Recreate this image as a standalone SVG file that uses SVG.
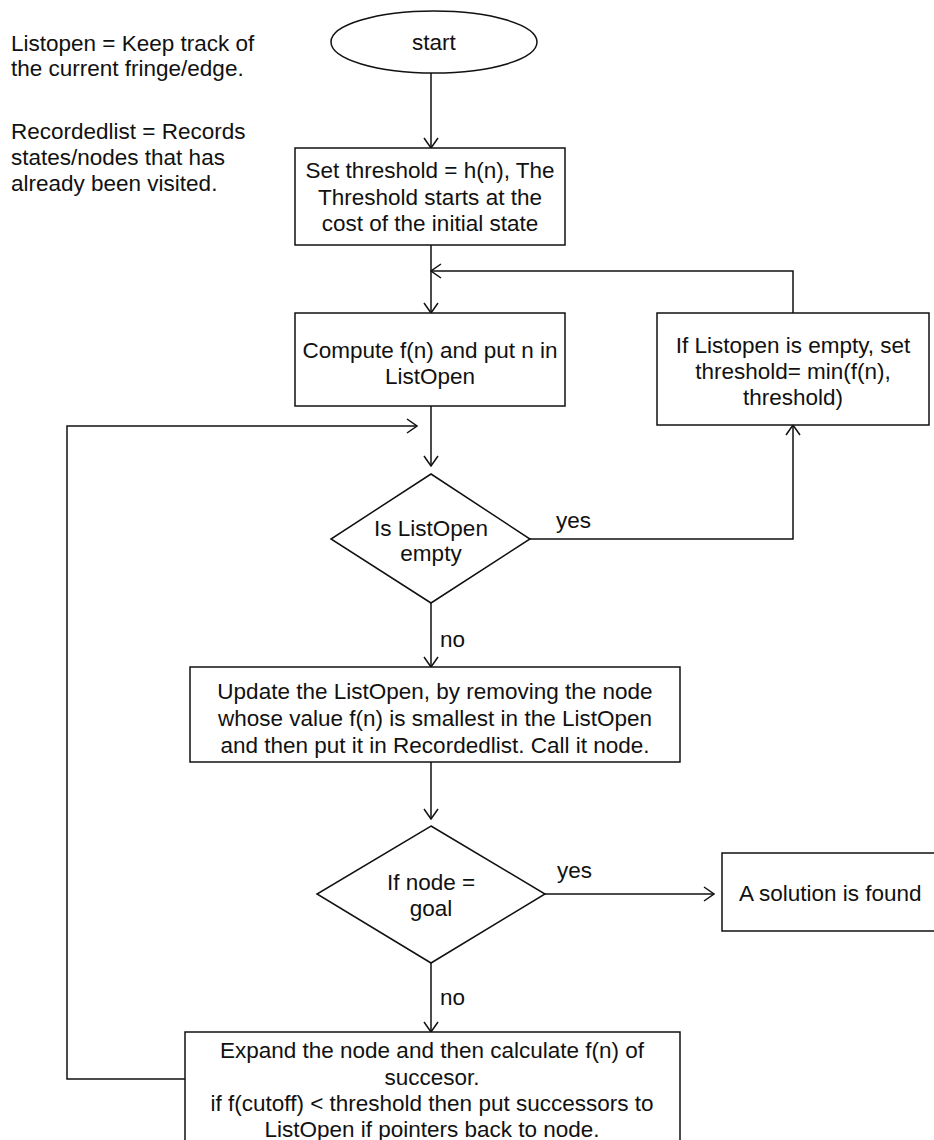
<svg xmlns="http://www.w3.org/2000/svg" width="934" height="1140" viewBox="0 0 934 1140">
<style>
.t{font-family:"Liberation Sans",Arial,sans-serif;font-size:22.5px;fill:#111;}
.m{text-anchor:middle;}
.s{fill:#fff;stroke:#111;stroke-width:1.5;}
.c{fill:none;stroke:#111;stroke-width:1.5;}
</style>
<defs>
<marker id="a" viewBox="0 0 12 16" refX="11" refY="8" markerWidth="12" markerHeight="16" markerUnits="userSpaceOnUse" orient="auto">
<path d="M1,1 L11,8 L1,15" fill="none" stroke="#111" stroke-width="1.5"/>
</marker>
</defs>
<rect width="934" height="1140" fill="#fff"/>
<g id="legend">
<text class="t" x="11" y="51">Listopen = Keep track of</text>
<text class="t" x="11" y="76">the current fringe/edge.</text>
<text class="t" x="11" y="139">Recordedlist = Records</text>
<text class="t" x="11" y="165">states/nodes that has</text>
<text class="t" x="11" y="191">already been visited.</text>
</g>
<g id="connectors">
<path class="c" d="M431,73 V148" marker-end="url(#a)"/>
<path class="c" d="M431,245 V313" marker-end="url(#a)"/>
<path class="c" d="M793,313 V271 H431" marker-end="url(#a)"/>
<path class="c" d="M431,406 V466" marker-end="url(#a)"/>
<path class="c" d="M185,1079 H67 V426 H417" marker-end="url(#a)"/>
<path class="c" d="M530,539 H793 V425" marker-end="url(#a)"/>
<path class="c" d="M431,603 V667" marker-end="url(#a)"/>
<path class="c" d="M431,762 V819" marker-end="url(#a)"/>
<path class="c" d="M545,894 H714" marker-end="url(#a)"/>
<path class="c" d="M431,963 V1032" marker-end="url(#a)"/>
<text class="t" x="556" y="528">yes</text>
<text class="t" x="440" y="647">no</text>
<text class="t" x="557" y="878">yes</text>
<text class="t" x="440" y="1005">no</text>
</g>
<g id="start">
<ellipse class="s" cx="434" cy="42" rx="103" ry="31"/>
<text class="t m" x="434" y="50">start</text>
</g>
<g id="set-threshold">
<rect class="s" x="295" y="148" width="270" height="97"/>
<text class="t m" x="430" y="178">Set threshold = h(n), The</text>
<text class="t m" x="430" y="205">Threshold starts at the</text>
<text class="t m" x="430" y="231">cost of the initial state</text>
</g>
<g id="compute">
<rect class="s" x="295" y="313" width="270" height="93"/>
<text class="t m" x="430" y="358">Compute f(n) and put n in</text>
<text class="t m" x="430" y="384">ListOpen</text>
</g>
<g id="update-threshold">
<rect class="s" x="657" y="313" width="272" height="112"/>
<text class="t m" x="793" y="353">If Listopen is empty, set</text>
<text class="t m" x="793" y="379">threshold= min(f(n),</text>
<text class="t m" x="793" y="405">threshold)</text>
</g>
<g id="is-empty">
<polygon class="s" points="431,474 530,539 431,603 331,539"/>
<text class="t m" x="431" y="536">Is ListOpen</text>
<text class="t m" x="431" y="561">empty</text>
</g>
<g id="update-list">
<rect class="s" x="190" y="667" width="490" height="95"/>
<text class="t m" x="435" y="699">Update the ListOpen, by removing the node</text>
<text class="t m" x="435" y="726">whose value f(n) is smallest in the ListOpen</text>
<text class="t m" x="435" y="753">and then put it in Recordedlist. Call it node.</text>
</g>
<g id="is-goal">
<polygon class="s" points="431,826 545,894 431,963 317,894"/>
<text class="t m" x="431" y="890">If node =</text>
<text class="t m" x="431" y="916">goal</text>
</g>
<g id="solution">
<rect class="s" x="722" y="853" width="220" height="78"/>
<text class="t" x="739" y="901">A solution is found</text>
</g>
<g id="expand">
<rect class="s" x="185" y="1032" width="495" height="120"/>
<text class="t m" x="432" y="1058">Expand the node and then calculate f(n) of</text>
<text class="t m" x="432" y="1085">succesor.</text>
<text class="t m" x="432" y="1111">if f(cutoff) &lt; threshold then put successors to</text>
<text class="t m" x="432" y="1137">ListOpen if pointers back to node.</text>
</g>
</svg>
